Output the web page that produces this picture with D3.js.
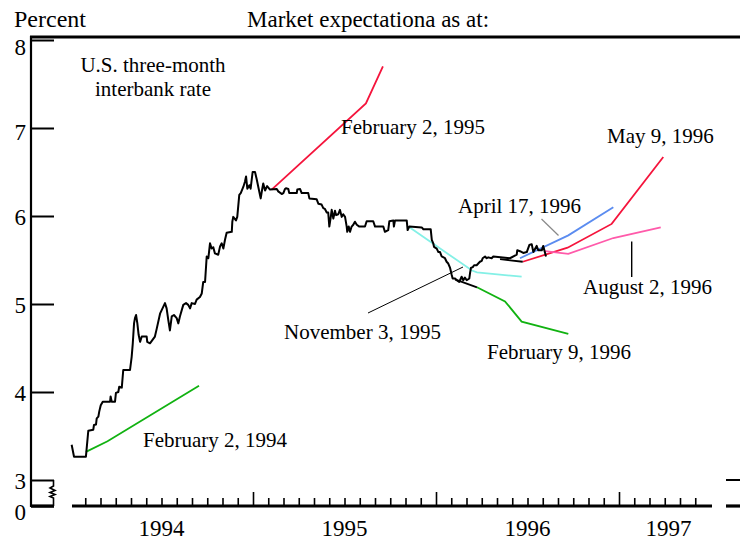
<!DOCTYPE html>
<html><head><meta charset="utf-8">
<script src="https://cdn.jsdelivr.net/npm/d3@7"></script>
<style>
html,body{margin:0;padding:0;background:#fff;}
svg{display:block;font-family:"Liberation Serif","Times New Roman",serif;}
</style></head>
<body>
<svg id="chart" width="740" height="540"></svg>
<script>
// ---------- DATA ----------
// U.S. three-month interbank rate (decimal year, percent)
const rateDates = [1994.009,1994.022,1994.087,1994.100,1994.127,1994.131,1994.142,1994.146,1994.155,1994.160,1994.168,1994.179,1994.219,1994.222,1994.228,1994.246,1994.251,1994.264,1994.269,1994.283,1994.291,1994.328,1994.337,1994.343,1994.350,1994.355,1994.361,1994.368,1994.375,1994.383,1994.392,1994.419,1994.422,1994.437,1994.464,1994.474,1994.492,1994.501,1994.519,1994.528,1994.537,1994.546,1994.556,1994.568,1994.583,1994.592,1994.601,1994.619,1994.634,1994.646,1994.656,1994.665,1994.683,1994.692,1994.710,1994.720,1994.728,1994.738,1994.747,1994.756,1994.765,1994.774,1994.783,1994.792,1994.810,1994.820,1994.829,1994.838,1994.847,1994.856,1994.884,1994.887,1994.892,1994.907,1994.914,1994.925,1994.933,1994.947,1994.956,1994.962,1994.969,1994.980,1994.987,1994.998,1995.011,1995.020,1995.029,1995.042,1995.049,1995.056,1995.066,1995.077,1995.093,1995.130,1995.138,1995.157,1995.166,1995.175,1995.180,1995.193,1995.198,1995.239,1995.242,1995.257,1995.266,1995.302,1995.308,1995.348,1995.357,1995.375,1995.384,1995.393,1995.403,1995.411,1995.417,1995.425,1995.430,1995.439,1995.448,1995.454,1995.466,1995.475,1995.485,1995.493,1995.503,1995.512,1995.515,1995.523,1995.530,1995.539,1995.548,1995.557,1995.567,1995.581,1995.612,1995.621,1995.657,1995.667,1995.712,1995.721,1995.739,1995.745,1995.767,1995.770,1995.776,1995.840,1995.845,1995.854,1995.922,1995.931,1995.971,1995.977,1995.985,1995.989,1996.004,1996.013,1996.022,1996.031,1996.049,1996.058,1996.067,1996.077,1996.086,1996.091,1996.104,1996.113,1996.127,1996.140,1996.149,1996.158,1996.168,1996.182,1996.186,1996.191,1996.201,1996.208,1996.222,1996.231,1996.240,1996.250,1996.255,1996.268,1996.277,1996.286,1996.304,1996.313,1996.404,1996.441,1996.444,1996.459,1996.477,1996.496,1996.510,1996.523,1996.532,1996.550,1996.559,1996.578,1996.586,1996.601];
const rateValues = [3.40,3.265,3.265,3.56,3.57,3.625,3.63,3.70,3.72,3.78,3.85,3.89,3.89,3.95,3.89,3.89,3.99,4.00,4.06,4.05,4.25,4.25,4.40,4.55,4.78,4.84,4.875,4.78,4.65,4.57,4.63,4.63,4.57,4.553,4.63,4.72,4.89,4.93,5.01,4.95,4.82,4.70,4.86,4.875,4.84,4.78,4.86,4.99,5.01,4.99,4.95,5.01,5.00,5.05,5.08,5.12,5.25,5.25,5.54,5.52,5.69,5.63,5.645,5.575,5.56,5.655,5.69,5.63,5.73,5.81,5.82,5.935,5.99,5.95,5.99,6.24,6.26,6.33,6.39,6.45,6.31,6.35,6.31,6.50,6.50,6.42,6.33,6.20,6.29,6.37,6.29,6.34,6.30,6.307,6.28,6.25,6.26,6.307,6.315,6.307,6.26,6.26,6.30,6.307,6.26,6.26,6.20,6.19,6.14,6.13,6.09,6.08,6.04,6.04,5.88,5.99,6.07,5.97,6.06,6.01,6.02,6.07,5.99,6.02,5.99,5.88,5.82,5.88,5.82,5.88,5.90,5.935,5.90,5.88,5.88,5.94,5.94,5.88,5.88,5.82,5.84,5.94,5.95,5.88,5.95,5.95,5.84,5.88,5.87,5.85,5.85,5.73,5.69,5.65,5.63,5.59,5.59,5.54,5.52,5.48,5.46,5.41,5.33,5.29,5.29,5.27,5.25,5.31,5.27,5.30,5.27,5.29,5.35,5.41,5.42,5.44,5.44,5.46,5.48,5.49,5.52,5.54,5.52,5.53,5.52,5.54,5.52,5.56,5.61,5.60,5.58,5.59,5.67,5.68,5.59,5.66,5.61,5.61,5.66,5.54];

// Market expectations (forward path) as at each date
const feb94Dates = [1994.087,1994.205,1994.705];
const feb94Values = [3.32,3.44,4.07];
const feb95Dates = [1995.102,1995.617,1995.710];
const feb95Values = [6.30,7.28,7.70];
const nov95Dates = [1995.849,1996.197,1996.224,1996.468];
const nov95Values = [5.88,5.38,5.36,5.31];
const feb96Dates = [1996.104,1996.224,1996.377,1996.468,1996.723];
const feb96Values = [5.28,5.19,5.03,4.80,4.66];
const apr96Dates = [1996.459,1996.723,1996.969];
const apr96Values = [5.52,5.78,6.10];
const may96Dates = [1996.350,1996.474,1996.719,1996.960,1997.242];
const may96Values = [5.51,5.48,5.64,5.91,6.67];
const aug96Dates = [1996.596,1996.723,1996.969,1997.228];
const aug96Values = [5.60,5.57,5.75,5.87];

const yTicks = [0,3,4,5,6,7,8];
const yearLabels = ["1994","1995","1996","1997"];
const yearLabelPos = [1994.5,1995.5,1996.5,1997.27];

// ---------- LAYOUT ----------
const svg = d3.select("#chart");
const x = d3.scaleLinear().domain([1994,1997]).range([70,619]);
const y = d3.scaleLinear().domain([0,3,8]).range([506,480,40]);
const zip = (xs, ys) => xs.map((d,i)=>[d, ys[i]]);
const line = d3.line().x(d=>x(d[0])).y(d=>y(d[1]));

// frame
svg.append("line").attr("x1",30).attr("x2",742).attr("y1",37).attr("y2",37)
  .attr("stroke","#000").attr("stroke-width",3);
svg.append("line").attr("x1",31).attr("x2",31).attr("y1",36).attr("y2",507)
  .attr("stroke","#000").attr("stroke-width",2.2);

// y axis (ticks inward)
const yAxis = d3.axisRight(y).tickValues(yTicks).tickSize(23).tickFormat(d3.format("d"));
const gy = svg.append("g").attr("transform","translate(31,0)").call(yAxis);
gy.select(".domain").remove();
gy.selectAll(".tick line").attr("stroke","#000").attr("stroke-width",2);
gy.selectAll(".tick text")
  .attr("x",-5).attr("dy",d=> d===8?"0.62em": d===0?"0.58em": d===7?"0.5em":"0.36em")
  .attr("text-anchor","end").attr("font-size",23)
  .attr("font-family","Liberation Serif, Times New Roman, serif").attr("fill","#000");

// axis break on left
const midX = 53.5;
svg.append("path")
  .attr("d",`M${midX},${y(3)} L${midX},486 L50,488 L55,490.5 L50,492.5 L55,494.5 L50,496.5 L${midX},498 L${midX},${y(0)}`)
  .attr("fill","none").attr("stroke","#000").attr("stroke-width",1.6);

// bottom axis (with breaks)
[[31,54],[72,712],[726,742]].forEach(s=>{
  svg.append("line").attr("x1",s[0]).attr("x2",s[1]).attr("y1",506).attr("y2",506)
    .attr("stroke","#000").attr("stroke-width",3.2);
});
// right side 3-level stub
svg.append("line").attr("x1",726).attr("x2",742).attr("y1",y(3)).attr("y2",y(3))
  .attr("stroke","#000").attr("stroke-width",2);

const months = d3.range(1,42).map(m=>1994+m/12);
const xAxis = d3.axisTop(x).tickValues(months).tickSize(8).tickFormat("");
const gx = svg.append("g").attr("transform","translate(0,506)").call(xAxis);
gx.select(".domain").remove();
gx.selectAll(".tick line").attr("stroke","#000").attr("stroke-width",1.6)
  .attr("y2",d=> Math.abs(d-Math.round(d))<1e-6 ? -14 : -8);

svg.append("g").selectAll("text").data(yearLabels).join("text")
  .attr("x",(d,i)=>x(yearLabelPos[i])).attr("y",536)
  .attr("text-anchor","middle").attr("font-size",23).text(d=>d);

// series
const series = [
  {d:zip(feb94Dates,feb94Values), c:"#11b211", lead:0},
  {d:zip(feb95Dates,feb95Values), c:"#f5143c", lead:0},
  {d:zip(nov95Dates,nov95Values), c:"#84f0e6", lead:0},
  {d:zip(feb96Dates,feb96Values), c:"#11b211", lead:1},
  {d:zip(apr96Dates,apr96Values), c:"#5b8cf0", lead:0},
  {d:zip(may96Dates,may96Values), c:"#f5143c", lead:1},
  {d:zip(aug96Dates,aug96Values), c:"#ff5aaa", lead:0}
];
series.forEach(s=>{
  svg.append("path").attr("d",line(s.d.slice(s.lead))).attr("fill","none")
    .attr("stroke",s.c).attr("stroke-width",1.8);
  if(s.lead) svg.append("path").attr("d",line(s.d.slice(0,s.lead+1))).attr("fill","none")
    .attr("stroke","#000").attr("stroke-width",1.8);
});
svg.append("path").attr("d",line(zip(rateDates,rateValues))).attr("fill","none")
  .attr("stroke","#000").attr("stroke-width",2).attr("stroke-linejoin","round");

// leader lines
svg.append("line").attr("x1",368).attr("y1",313).attr("x2",463).attr("y2",267).attr("stroke","#000").attr("stroke-width",1);
svg.append("line").attr("x1",541.5).attr("y1",219).attr("x2",558.5).attr("y2",235.5).attr("stroke","#888").attr("stroke-width",1.2);
svg.append("line").attr("x1",631.7).attr("y1",241.5).attr("x2",631.7).attr("y2",277).attr("stroke","#000").attr("stroke-width",1.4);

// text
const T = (t,xx,yy,fs,anchor)=>svg.append("text").attr("x",xx).attr("y",yy)
  .attr("font-size",fs).attr("text-anchor",anchor||"start").attr("fill","#000").text(t);
T("Percent",14,27,24);
T("Market expectationa as at:",247,27,23);
T("U.S. three-month",153,72,21,"middle");
T("interbank rate",153,95.5,21,"middle");
T("February 2, 1995",341,134,21);
T("May 9, 1996",607,143,21);
T("April 17, 1996",458,213,21);
T("August 2, 1996",583,294,21);
T("November 3, 1995",284,339,21);
T("February 9, 1996",487,359,21);
T("February 2, 1994",143,446.5,21);
</script>
</body></html>
